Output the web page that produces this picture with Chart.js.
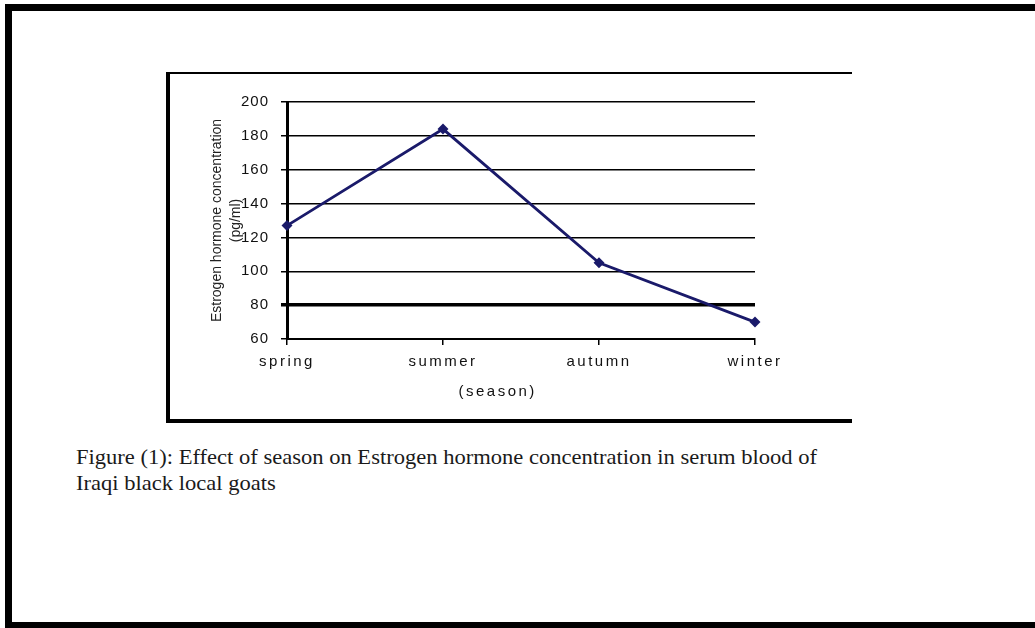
<!DOCTYPE html>
<html>
<head>
<meta charset="utf-8">
<script src="https://cdn.jsdelivr.net/npm/chart.js@4/dist/chart.umd.min.js"></script>
<style>
  html, body { margin: 0; padding: 0; background: #fff; }
  body { width: 1035px; height: 628px; position: relative; overflow: hidden; }
  #frame {
    position: absolute; left: 5px; top: 4px; width: 1040px; height: 624px;
    box-sizing: border-box;
    border-left: 7px solid #000; border-top: 7px solid #000; border-bottom: 6px solid #000;
  }
  #chartBox {
    position: absolute; left: 166px; top: 72px; width: 686px; height: 351px;
    box-sizing: border-box;
    border-left: 4px solid #000; border-top: 2px solid #000; border-bottom: 4px solid #000;
  }
  #chartBox canvas { display: block; }
  .caption {
    position: absolute; left: 76px;
    font-family: "Liberation Serif", "Times New Roman", serif;
    font-size: 22px; color: #1a1a1a; white-space: nowrap;
    transform-origin: 0 0;
  }
</style>
</head>
<body>
<div id="frame"></div>
<div id="chartBox"><canvas id="chart" width="682" height="345"></canvas></div>
<div class="caption" id="cap1" style="top:444px">Figure (1): Effect of season on Estrogen hormone concentration in serum blood of</div>
<div class="caption" id="cap2" style="top:470px">Iraqi black local goats</div>

<script>
var seasons = ['spring', 'summer', 'autumn', 'winter']
var estrogen = [127, 184, 105, 70]
var yTitle = ['Estrogen hormone concentration', '(pg/ml)']
var xTitle = '(season)'

var tickFont = { family: "'Liberation Sans', Arial, sans-serif", size: 15 }

// caption line 1 is squeezed to the width it has in the scan
var cap1 = document.getElementById('cap1')
var cap2 = document.getElementById('cap2')
var k = 741 / cap1.getBoundingClientRect().width
cap1.style.transform = 'scaleX(' + k + ')'
cap2.style.transform = 'scaleX(' + k + ')'

// the scanned labels are letter-spaced, chart.js has no option for it
function spaced(fn, px) {
  return function () {
    var ctx = this.ctx
    var old = ctx.letterSpacing
    ctx.letterSpacing = px
    fn.apply(this, arguments)
    ctx.letterSpacing = old || '0px'
  }
}
var letterSpacingPlugin = {
  id: 'letterSpacing',
  afterUpdate: function (chart) {
    var x = chart.scales.x, y = chart.scales.y
    if (x._spaced) return
    x.drawLabels = spaced(x.drawLabels, '2.5px')
    x.drawTitle = spaced(x.drawTitle, '2.5px')
    y.drawLabels = spaced(y.drawLabels, '1px')
    x._spaced = true
  }
}

var estrogen_chart = new Chart(document.getElementById('chart').getContext('2d'), {
  type: 'line',
  data: {
    labels: seasons,
    datasets: [{
      label: 'Estrogen',
      data: estrogen,
      borderColor: '#1a1a6a',
      backgroundColor: '#1a1a6a',
      borderWidth: 2.8,
      pointStyle: 'rectRot',
      pointRadius: 3.5,
      tension: 0
    }]
  },
  options: {
    responsive: false,
    animation: false,
    layout: { padding: { left: 33, top: 28, right: 97, bottom: 18 } },
    plugins: {
      legend: { display: false },
      tooltip: { enabled: false }
    },
    scales: {
      x: {
        offset: false,
        grid: { drawOnChartArea: false, drawTicks: true, tickLength: 6, color: '#000', lineWidth: 1.5 },
        border: { display: true, color: '#000', width: 2 },
        ticks: { color: '#111', font: tickFont, padding: 8, maxRotation: 0 },
        title: {
          display: true, text: xTitle + '\u00a0\u00a0\u00a0\u00a0\u00a0\u00a0\u00a0',
          color: '#111', font: tickFont, padding: { top: 4, bottom: 0 }
        }
      },
      y: {
        min: 60,
        max: 200,
        ticks: { stepSize: 20, color: '#111', font: tickFont, padding: 12 },
        grid: {
          color: '#000',
          lineWidth: function (c) { return c.tick && c.tick.value === 80 ? 3.5 : 1.5 },
          tickLength: 6
        },
        border: { display: true, color: '#000', width: 3 },
        title: {
          display: true, text: yTitle, color: '#222',
          font: { family: "'Liberation Sans', Arial, sans-serif", size: 14, lineHeight: 1.4 },
          padding: { top: 4, bottom: 0 }
        },
        afterFit: function (scale) { scale.width = 84 }
      }
    }
  },
  plugins: [letterSpacingPlugin]
})
</script>
</body>
</html>
